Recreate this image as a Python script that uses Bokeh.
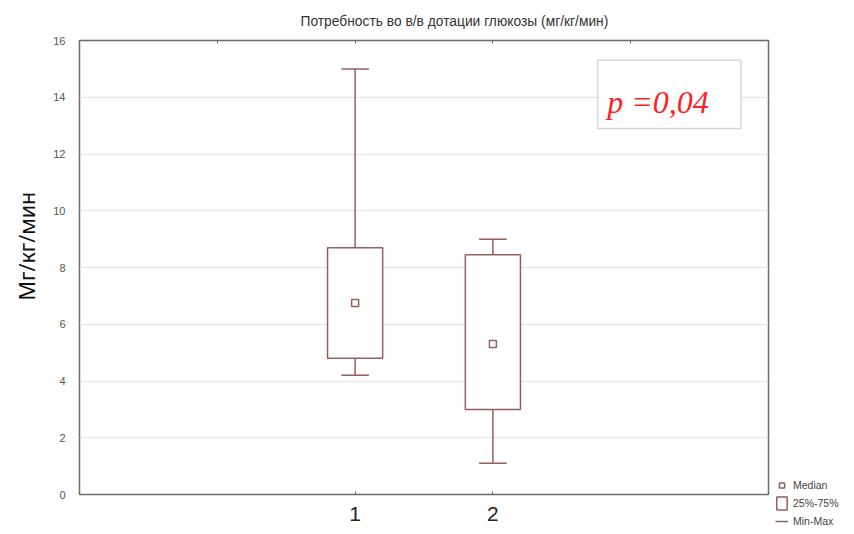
import math
from bokeh.plotting import figure
from bokeh.models import (LinearAxis, FixedTicker, Label, BoxAnnotation, Legend,
                          LegendItem, ColumnDataSource, Range1d, Title)
from bokeh.embed import file_html
from bokeh.resources import INLINE

# ---- data ----
groups = ["1", "2"]
mins = [4.2, 1.1]
q1 = [4.8, 3.0]
medians = [6.75, 5.3]
q3 = [8.7, 8.45]
maxs = [15.0, 9.0]

title_text = "Потребность во в/в дотации глюкозы (мг/кг/мин)"
y_label = "Мг/кг/мин"
p_text = "p =0,04"
y_ticks = [0, 2, 4, 6, 8, 10, 12, 14, 16]
top_ticks = [1, 2, 3, 4]
legend_labels = ["Median", "25%-75%", "Min-Max"]

BROWN = "#985e5e"
BOX_HALF = 0.2
CAP_HALF = 0.1
X_START, X_END = 0, 5

xs = [i + 2 for i in range(len(groups))]
src = ColumnDataSource(dict(
    x=xs,
    left=[x - BOX_HALF for x in xs], right=[x + BOX_HALF for x in xs],
    cl=[x - CAP_HALF for x in xs], cr=[x + CAP_HALF for x in xs],
    mins=mins, q1=q1, med=medians, q3=q3, maxs=maxs,
))

p = figure(frame_width=689, frame_height=454, x_range=Range1d(X_START, X_END), y_range=Range1d(0, 16),
           output_backend="svg", toolbar_location=None,
           min_border_left=0, min_border_right=79, min_border_top=40, min_border_bottom=0)

p.title.text = title_text
p.title.align = "left"
p.title.offset = 221
p.title.text_font = "Liberation Sans"
p.title.text_font_size = "13.8px"
p.title.text_font_style = "normal"
p.title.text_color = "#333333"
p.title.standoff = 23

p.add_layout(Title(text=y_label, align="left", offset=194, text_font="Noto Sans",
                   text_font_size="21.5px", text_font_style="normal",
                   text_color="#111111", standoff=19), "left")

p.outline_line_color = "#6a6a6a"
p.outline_line_width = 1.5

p.xgrid.visible = False
p.ygrid.ticker = FixedTicker(ticks=y_ticks[1:-1])
p.ygrid.grid_line_color = "#e8e8e8"
p.ygrid.grid_line_width = 1.5

p.yaxis.ticker = FixedTicker(ticks=y_ticks)
p.yaxis.major_tick_in = 0
p.yaxis.major_tick_out = 0
p.yaxis.minor_tick_line_color = None
p.yaxis.axis_line_color = None
p.yaxis.major_label_text_font = "Liberation Sans"
p.yaxis.major_label_text_font_size = "11px"
p.yaxis.major_label_text_color = "#555555"
p.yaxis.major_label_standoff = 14

p.xaxis.ticker = FixedTicker(ticks=xs)
p.xaxis.major_label_overrides = {x: g for x, g in zip(xs, groups)}
p.xaxis.major_tick_in = 3
p.xaxis.major_tick_out = 0
p.xaxis.major_tick_line_color = "#666666"
p.xaxis.minor_tick_line_color = None
p.xaxis.axis_line_color = None
p.xaxis.major_label_text_font = "Liberation Sans"
p.xaxis.major_label_text_font_size = "21px"
p.xaxis.major_label_text_color = "#222222"
p.xaxis.major_label_standoff = 12

top_axis = LinearAxis(ticker=FixedTicker(ticks=top_ticks),
                      major_label_overrides={t: "" for t in top_ticks},
                      major_label_text_font_size="1px", major_label_standoff=0,
                      major_tick_in=3, major_tick_out=0, major_tick_line_color="#666666",
                      minor_tick_line_color=None, axis_line_color=None)
p.add_layout(top_axis, "above")

# whiskers
p.segment(x0="x", y0="q3", x1="x", y1="maxs", source=src, line_color=BROWN, line_width=1.5)
p.segment(x0="x", y0="mins", x1="x", y1="q1", source=src, line_color=BROWN, line_width=1.5)
p.segment(x0="cl", y0="maxs", x1="cr", y1="maxs", source=src, line_color=BROWN, line_width=1.5)
p.segment(x0="cl", y0="mins", x1="cr", y1="mins", source=src, line_color=BROWN, line_width=1.5)
# boxes
box_r = p.quad(left="left", right="right", bottom="q1", top="q3", source=src,
               fill_color="white", line_color=BROWN, line_width=1.5)
med_r = p.scatter(x="x", y="med", source=src, marker="square", size=7,
                  fill_color="white", line_color=BROWN, line_width=1.5)
# legend proxy for the Min-Max whisker (a vertical span kept outside the visible x range)
ws_r = p.vspan(x=[X_START - 1], line_color=BROWN, line_width=1.5)

# p-value annotation
p.add_layout(BoxAnnotation(left=3.76, right=4.80, bottom=12.9, top=15.3,
                           fill_color="white", fill_alpha=1.0,
                           line_color="#7a7a7a", line_width=1.5))
p.add_layout(Label(x=3.83, y=13.85, text=p_text, text_font="Liberation Serif",
                   text_font_style="italic", text_font_size="32px", text_color="#ff1f1f",
                   text_baseline="alphabetic"))

legend = Legend(items=[LegendItem(label=legend_labels[0], renderers=[med_r]),
                       LegendItem(label=legend_labels[1], renderers=[box_r]),
                       LegendItem(label=legend_labels[2], renderers=[ws_r])],
                location=(7, -35), border_line_color=None, background_fill_alpha=0,
                label_text_font="Liberation Sans", label_text_font_size="10.5px",
                label_text_color="#444444", glyph_width=13, glyph_height=16,
                label_height=16, spacing=2, padding=0, margin=0, label_standoff=5)
p.add_layout(legend, "right")

open("out.html", "w").write(file_html(p, INLINE))
